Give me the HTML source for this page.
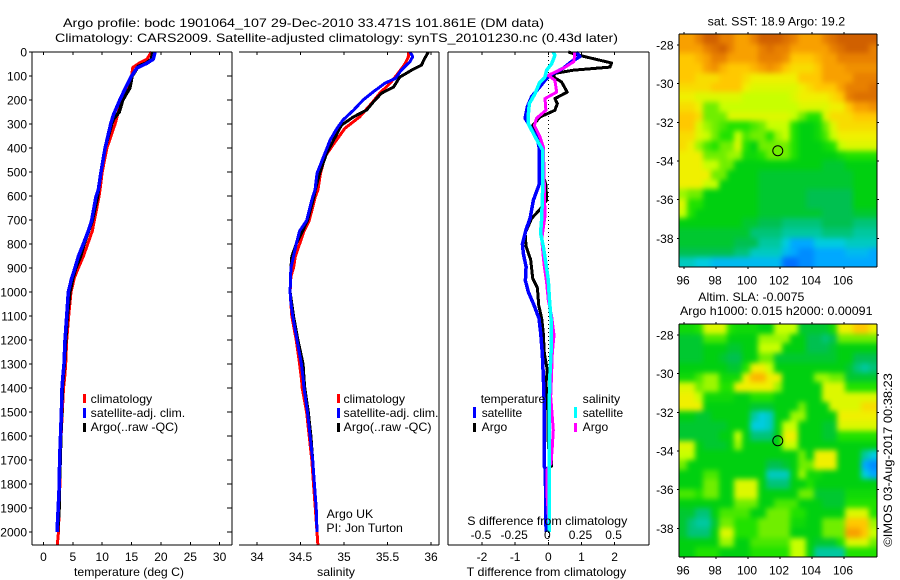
<!DOCTYPE html>
<html>
<head>
<meta charset="utf-8">
<title>Argo profile</title>
<style>
html,body{margin:0;padding:0;background:#fff;}
svg{display:block;}
text{font-family:"Liberation Sans",sans-serif;font-size:12px;fill:#000;}
</style>
</head>
<body>
<svg id="chart" xmlns="http://www.w3.org/2000/svg" width="900" height="580" viewBox="0 0 900 580">
<defs>
<filter id="map-smooth" filterUnits="userSpaceOnUse" x="640" y="0" width="260" height="580" color-interpolation-filters="sRGB">
<feGaussianBlur stdDeviation="2.6"/>
</filter>
<clipPath id="clip-sst"><rect x="679" y="34" width="198" height="233"/></clipPath>
<clipPath id="clip-sla"><rect x="679" y="324" width="198" height="233"/></clipPath>
</defs>
<rect x="0" y="0" width="900" height="580" fill="#fff"/>
<g clip-path="url(#clip-sst)"><g id="sst-cells" filter="url(#map-smooth)" shape-rendering="crispEdges"></g></g>
<g clip-path="url(#clip-sla)"><g id="sla-cells" filter="url(#map-smooth)" shape-rendering="crispEdges"></g></g>
<g id="plots" fill="none" shape-rendering="crispEdges"></g>
<g id="axes" shape-rendering="crispEdges"></g>
<g id="ticklabels"></g>

<text x="63" y="27" textLength="481" lengthAdjust="spacingAndGlyphs">Argo profile: bodc 1901064_107 29-Dec-2010 33.471S 101.861E (DM data)</text>
<text x="55" y="42" textLength="563" lengthAdjust="spacingAndGlyphs">Climatology: CARS2009. Satellite-adjusted climatology: synTS_20101230.nc (0.43d later)</text>

<text x="74" y="576" textLength="110" lengthAdjust="spacingAndGlyphs">temperature (deg C)</text>
<text x="317" y="576" textLength="38" lengthAdjust="spacingAndGlyphs">salinity</text>
<text x="466.7" y="576" textLength="159.5" lengthAdjust="spacingAndGlyphs">T difference from climatology</text>
<text x="467.3" y="525" textLength="160" lengthAdjust="spacingAndGlyphs">S difference from climatology</text>

<g shape-rendering="crispEdges">
<rect x="83" y="394" width="3" height="9" fill="#f00"/>
<rect x="83" y="408" width="3" height="10" fill="#00f"/>
<rect x="83" y="423" width="3" height="9" fill="#000"/>
</g>
<text x="90.7" y="403" textLength="61.5" lengthAdjust="spacingAndGlyphs">climatology</text>
<text x="90.7" y="417" textLength="94.5" lengthAdjust="spacingAndGlyphs">satellite-adj. clim.</text>
<text x="90.7" y="431" textLength="87.5" lengthAdjust="spacingAndGlyphs">Argo(..raw -QC)</text>

<g shape-rendering="crispEdges">
<rect x="337" y="394" width="3" height="9" fill="#f00"/>
<rect x="337" y="408" width="3" height="10" fill="#00f"/>
<rect x="337" y="423" width="3" height="9" fill="#000"/>
</g>
<text x="343.5" y="403" textLength="61.5" lengthAdjust="spacingAndGlyphs">climatology</text>
<text x="343.5" y="417" textLength="95" lengthAdjust="spacingAndGlyphs">satellite-adj. clim.</text>
<text x="343.5" y="431" textLength="88" lengthAdjust="spacingAndGlyphs">Argo(..raw -QC)</text>
<text x="326.7" y="518" textLength="46.5" lengthAdjust="spacingAndGlyphs">Argo UK</text>
<text x="326.4" y="532" textLength="76.5" lengthAdjust="spacingAndGlyphs">PI: Jon Turton</text>

<g shape-rendering="crispEdges">
<rect x="473" y="407" width="3" height="11" fill="#00f"/>
<rect x="473" y="423" width="3" height="9" fill="#000"/>
<rect x="574" y="407" width="3" height="11" fill="#0ff"/>
<rect x="574" y="423" width="3" height="9" fill="#f0f"/>
</g>
<text x="480.7" y="403" textLength="64.5" lengthAdjust="spacingAndGlyphs">temperature</text>
<text x="582.7" y="403" textLength="37.5" lengthAdjust="spacingAndGlyphs">salinity</text>
<text x="481.7" y="417" textLength="40.5" lengthAdjust="spacingAndGlyphs">satellite</text>
<text x="481.7" y="431" textLength="25.5" lengthAdjust="spacingAndGlyphs">Argo</text>
<text x="582.7" y="417" textLength="40.5" lengthAdjust="spacingAndGlyphs">satellite</text>
<text x="582.7" y="431" textLength="25.5" lengthAdjust="spacingAndGlyphs">Argo</text>

<text x="707.7" y="25.5" textLength="137.5" lengthAdjust="spacingAndGlyphs">sat. SST: 18.9 Argo: 19.2</text>
<text x="698.3" y="301" textLength="106" lengthAdjust="spacingAndGlyphs">Altim. SLA: -0.0075</text>
<text x="680" y="315" textLength="192.5" lengthAdjust="spacingAndGlyphs">Argo h1000: 0.015 h2000: 0.00091</text>
<text transform="translate(892 546.7) rotate(-90)" x="0" y="0" textLength="173.5" lengthAdjust="spacingAndGlyphs">©IMOS 03-Aug-2017 00:38:23</text>
</svg>

<script>
// ---------- depth profiles: temperature ----------
const tempClimDepth = [0,30,45,65,100,200,300,400,500,575,603,703,746,800,852,900,942,1000,1100,1200,1300,1360,1400,1500,1600,1700,1800,1900,2000,2055];
const tempClimValue = [18.4,17.6,16.4,15.2,15,13.3,12.2,10.8,10,9.63,9.45,8.66,8.32,7.53,6.78,5.93,5.25,4.68,4.29,3.95,3.78,3.6,3.4,3.2,3,2.85,2.8,2.65,2.55,2.35];
const tempArgoDepth = [0,30,45,60,100,150,200,250,280,300,400,500,603,703,800,852,900,942,1000,1100,1200,1300,1400,1500,1600,1700,1800,1900,2000];
const tempArgoValue = [18.6,18.4,17.6,16.15,15.1,14.7,13.5,12.9,11.9,11.6,10.5,9.8,9.2,8.3,6.9,6.3,5.5,5,4.5,4.05,3.78,3.55,3.2,3.1,2.95,2.85,2.7,2.65,2.4];
const tempSatDepth = [0,30,47,67,100,145,200,262,300,400,500,575,603,703,746,800,852,900,942,1000,1100,1200,1300,1360,1400,1500,1600,1700,1800,1900,2000];
const tempSatValue = [19,18.7,17.6,15.9,15,14.05,13,11.9,11.45,10.5,9.8,9.34,8.94,8.2,7.64,6.78,5.93,5.37,4.8,4.23,3.95,3.66,3.49,3.27,3.15,3.05,2.9,2.75,2.7,2.5,2.3];

// ---------- depth profiles: salinity ----------
const salClimDepth = [0,20,50,90,130,172,213,270,318,394,436,506,575,603,703,746,800,852,900,935,1000,1100,1200,1300,1360,1400,1500,1600,1700,1800,1900,2000,2055];
const salClimValue = [35.74,35.74,35.7,35.62,35.53,35.41,35.32,35.18,35.01,34.86,34.78,34.73,34.7,34.67,34.6,34.54,34.49,34.44,34.42,34.39,34.38,34.4,34.45,34.49,34.51,34.52,34.57,34.6,34.63,34.65,34.67,34.69,34.7];
const salArgoDepth = [0,25,55,75,105,146,172,207,242,270,305,367,422,506,575,603,703,800,852,900,1000,1100,1200,1300,1360,1400,1500,1600,1700,1800,1900,2000];
const salArgoValue = [35.97,35.93,35.89,35.78,35.64,35.57,35.43,35.34,35.26,35.11,34.97,34.88,34.8,34.72,34.67,34.655,34.58,34.45,34.4,34.39,34.38,34.42,34.47,34.53,34.54,34.55,34.59,34.62,34.64,34.66,34.68,34.69];
const salSatDepth = [0,19,40,75,110,130,165,200,242,283,318,367,422,506,575,603,703,746,800,852,900,1000,1045,1100,1200,1300,1360,1400,1500,1600,1700,1800,1900,2000];
const salSatValue = [35.76,35.79,35.76,35.66,35.59,35.47,35.34,35.22,35.11,34.99,34.92,34.84,34.78,34.69,34.667,34.64,34.57,34.49,34.45,34.42,34.39,34.38,34.39,34.41,34.46,34.51,34.53,34.54,34.58,34.61,34.64,34.66,34.68,34.69];

// ---------- differences from climatology ----------
const diffTSatDepth = [0,19,40,68,89,110,144,186,228,276,311,353,394,485,554,617,693,739,800,841,895,953,1000,1055,1110,1172,1255,1350,1440,1728,1735,1978,2000];
const diffTSatValue = [0.85,0.95,0.7,0.45,0.15,-0.05,-0.25,-0.5,-0.63,-0.7,-0.55,-0.35,-0.28,-0.28,-0.28,-0.45,-0.55,-0.67,-0.78,-0.75,-0.67,-0.69,-0.6,-0.43,-0.28,-0.23,-0.18,-0.15,-0.13,-0.12,-0.09,-0.07,-0.06];
const diffTArgoDepth = [0,14,28,46,63,76,89,104,125,167,194,215,243,271,306,353,394,485,554,617,656,693,755,810,866,943,983,1055,1110,1172,1255,1325,1380,1506,1645,1700,1725,1735,1853,1930,2000];
const diffTArgoValue = [0.6,0.95,1.36,1.91,1.86,0.75,0.2,0.15,0.4,0.57,0.2,0.27,0.2,-0.25,-0.47,-0.35,-0.2,-0.22,-0.07,-0.05,-0.25,-0.5,-0.7,-0.67,-0.53,-0.47,-0.33,-0.29,-0.2,-0.15,-0.12,-0.03,-0.07,-0.01,0,0.1,0.1,-0.02,-0.03,-0.05,-0.03];
const diffSSatDepth = [0,14,49,76,104,130,174,215,257,299,353,408,478,576,693,755,810,880,950,1040,1110,1255,1340,1440,1645,1853,2000];
const diffSSatValue = [0.038,0.05,0.025,-0.013,-0.025,-0.068,-0.1,-0.143,-0.15,-0.15,-0.1,-0.043,-0.043,-0.043,-0.05,-0.058,-0.038,-0.018,0,0.01,0.02,0.02,0.013,0.008,0.008,0.008,0.008];
const diffSArgoDepth = [0,40,68,97,118,167,194,243,276,306,353,394,478,685,780,880,960,1035,1100,1180,1255,1340,1436,1506,1575,1645,1715,1740,1853,1930,2000];
const diffSArgoValue = [0.2,0.193,0.113,0,0.05,0.063,-0.025,-0.018,-0.088,-0.105,-0.063,-0.038,-0.033,-0.025,-0.05,-0.033,-0.013,0,0.025,0.043,0.03,0.025,0.018,0.028,0.038,0.03,0.02,-0.008,-0.008,0,0.008];

// ---------- tick labels ----------
const depthTicks = [0,100,200,300,400,500,600,700,800,900,1000,1100,1200,1300,1400,1500,1600,1700,1800,1900,2000];
const tempTicks = [0,5,10,15,20,25,30];
const salTicks = [34,34.5,35,35.5,36];
const diffTTicks = [-2,-1,0,1,2];
const diffSTicks = [-0.5,-0.25,0,0.25,0.5];
const lonTicks = [96,98,100,102,104,106];
const latTicks = [-28,-30,-32,-34,-36,-38];
const argoLon = 101.861;
const argoLat = -33.471;

// ---------- SST map (colour level per cell, north to south) ----------
const sstMap = [
[12,12,13,14,14,13,13,12,12,13,14,14,14,13.5,13,12,12,12,13,13.5,14,14,14,14,14],
[12,12,12,13,13.5,14,13,12,12,12,13,13.5,13,13,12,12,12,12,12,13,13.5,14,14,14,13],
[11,11,11.5,12,13,13,12,12,12,12,13,13,13,12.5,11,11,11,11.5,12,12,13,13,13,13,13],
[11,11,11,12,12.5,11.5,11,11,11,11.5,12,12.5,12,11,10.5,10.5,10.5,11,12,12,12,12.5,12.5,12.5,12.5],
[11,11,10.5,10.5,10.5,11,11,11,10.5,10,10,10,10,10,10,11,11,11,12,12,12,12,13,13,13],
[10.5,10.5,10.5,10.5,11,11,11,11,10,9.5,9.5,9.5,9.5,9.5,9.5,10,10.5,11,11,11,12,13,13,13,13.5],
[10,10,9.5,9.5,9.5,9.5,9.5,9.5,9,9,9,9,9,9,9.5,10,10,10,10,10.5,11,13,13.5,13.5,13.5],
[10.5,10.5,10,8,8,9,9,9,9,9,9,9,9,9,9,9.5,9.5,9.5,9.5,10,10,11,12,12,12.5],
[11,11,10.5,8,8,8,9.5,9.5,9.5,9.5,9.5,9.5,9.5,9.5,9,8,7,7,9.5,10.5,10.5,10.5,11,11,11],
[11,11,9.5,8.5,8,7.5,7,7,7,7.5,8,9,9,9,7,6,6,6.5,8,9.5,10.5,10.5,10.5,10.5,10.5],
[10.5,10.5,9.5,9,8,7,7,9,7.5,8,8,7,8.5,9,7,6,6,6.5,7.5,9,10,10,10,10,10],
[10.5,10,8.5,7.5,7,8,8,9.5,7,6,8,8,8,8,7,6,6,6,6.5,7,9,9.5,9.5,9.5,9.5],
[10,10,10,8,8,8,8.5,8.5,6.5,6.5,7,8,8,8,7,6,6,6,6,6,6.5,7,7,7,7],
[10,10,10,9,9,8,8,6,6,6,6,6,6,6,6,6,6,6,5.5,5.5,5.5,6,6,6,6],
[10,10,10,10,8,8,6,6,6,6,5.5,5.5,5.5,5.5,5.5,5.5,5.5,5.5,5.5,5.5,5.5,5.5,6,6,6],
[10,10,10,9,9,6,6,6,6,6,5.5,5.5,5.5,5.5,5.5,5.5,5.5,5.5,5.5,5.5,5.5,5.5,6,6,6],
[8.5,8,8,6,6,6,6,6,6,6,5.5,5.5,5.5,5.5,5.5,5.5,5,5,5,5,5,5,6,6,6],
[9.5,7,7,6,6,6,6,6,6,6,5.5,5.5,5.5,5.5,5.5,5.5,5,5,5,5,5,5,6,6,6],
[9,7,6,6,6,6,6,6,6,6,5.5,5.5,5.5,5.5,5.5,5.5,5.5,5.5,5,5,5,5,5.5,5.5,5.5],
[6,6,6,6,6,6,6,6,5.5,5.5,5,5,5,4.5,4.5,4.5,4.5,4.5,5,5,5,5,4.5,4.5,4.5],
[5.5,5.5,5.5,5.5,5.5,5.5,5.5,5.5,5.5,4.5,4.5,4.5,4.5,4,4,4,4,4,4.5,4.5,4.5,4.5,4,4,4],
[5.5,5.5,5.5,5.5,5.5,5.5,5.5,5,5,5,4,4,4,3,2,2,2,3,3,3,3,3.5,3.5,3.5,3.5],
[5,5,5,5,5,5,5,4.5,4.5,3.5,3.5,3.5,3.5,2.5,2,1.5,1.5,2,2,2,2,2.5,2.5,2.5,2],
[3.5,3.5,3,3,2.5,2.5,2.5,2.5,2.5,2.5,2.5,2.5,2.5,1,1,1.5,1.5,2,2,2,2,2,2,2,2]
];

// ---------- SLA map (colour level per cell, north to south) ----------
const slaMap = [
[6.5,6.5,7,9.5,9.5,9.5,7,6.5,6.5,6.5,6,6,9,9,9,5.5,5.5,5.5,5.5,6.5,10,10,11,11,10],
[5.5,5.5,5.5,7.5,7.5,7.5,6,6,6,6,8.5,8.5,8.5,8.5,6,6,5,5,4.5,5,8,8,8,8,8],
[5.5,5.5,5.5,6,6,6,5.5,5.5,6,6,9,9,9,6,6,6,5,5,5,5.5,6,6,6,6,6],
[5.5,5.5,5.5,6,6,5.5,5,5,6,6,8,8,5.5,5.5,5.5,5.5,5.5,5.5,5.5,5.5,6,6,5,5,5],
[6,6,6,6,6,6,5.5,5.5,7,10,10,9,6,6,6,6,6,6,6,6,6,5.5,4.5,4,4.5],
[6.5,6.5,7.5,8.5,8.5,6.5,6.5,6.5,10,11.5,11.5,10,10,6,6,6,6,8.5,8.5,8,8,5.5,5.5,5.5,5.5],
[9.5,9.5,8,8.5,8.5,7,7,10,10,10,10,10,8.5,6,6,6,6,6,9.5,9.5,9.5,7,7,7,7],
[10,10,9,6.5,6.5,6.5,6.5,6,6,7,7,7,6,6,6,6,6,6,9.5,9.5,9.5,9.5,9.5,9.5,9.5],
[10,10,10,6,6,6,6,6,6,5.5,5.5,5.5,6,6,6,8,6,6,6,9.5,9.5,9.5,9.5,10.5,10.5],
[6,6,5.5,5.5,6,6,6,6,6,4,3,3.5,6,6,8.5,8.5,6,6,6,6,10,10,10,10,10],
[5.5,5.5,5.5,5.5,5.5,5.5,6,6,6,3,3,3.5,6,9,9,6,6,6,5.5,5.5,9.5,9.5,9.5,9.5,9.5],
[5.5,5.5,5.5,5.5,5.5,6,6,9,6,4.5,4.5,4.5,6,10,10,6,6,6,5.5,5.5,7,7,7,7,7],
[9.5,9.5,6,5.5,5.5,5.5,6,8.5,6,6,6,6,6,9,9,6,6,6,6,6,6,6,6,6,6],
[9,9,6,6,6,6,6,6,6,6,6,6,6,6,6,8,6,10,10,10,6,6,6,4,3],
[8,6,6,6,6,6,6,6,6,6,6,5,5,5.5,6,8,8,10,10,10,6,6,6,2,1.5],
[6,6,6,7.5,7.5,6,6,6,6,6,6,3.5,3.5,3.5,6,8.5,6.5,6.5,6,6,6,6,6,3,2],
[6,6,6,8,8,6,6,9.5,9.5,9.5,6,4.5,4.5,4.5,6,6,7,6,6,6,6,6,6,6,6],
[7.5,7.5,7,8,8,6,6,9.5,9.5,9.5,6,6,6,6,6,8,8,5.5,5.5,5.5,5.5,6.5,6.5,6.5,6.5],
[6,6,6,6,6,6,6,8,8,8,6,6,7.5,7.5,7.5,6,6,6,5.5,5.5,5.5,7,7,7,7],
[5.5,5.5,4.5,4.5,6,7.5,7.5,7.5,7.5,6,6,8,8,8,7,7,6,6,6,6,6,9.5,9.5,9.5,7],
[5.5,4.5,4,4,5.5,8,8,7,7,7,8,8,8,8,6.5,6.5,6,6,8,8,8,11,11,11,8.5],
[5.5,4.5,4.5,4.5,6,9.5,9.5,7,7,7,8,8,8,8,6,6,6,6,8,8,8,12,12,11,9],
[6,6,6,6,6,8.5,8.5,6,6,7.5,7.5,7.5,7.5,7.5,9,9,6,5.5,5.5,5.5,7,9.5,9.5,9.5,8],
[6,6,7,7,7,6,6,6,6,7,7,7,7,7,9,9,6,4,4,4,4,7,7,7,7]
];

// ---------- colour scale ----------
function levelColor(v) {
  const stops = [[0,48,192],[0,112,255],[0,168,255],[0,204,224],[0,200,160],[0,192,80],[0,208,16],[32,226,0],[112,238,0],[200,255,0],[240,240,0],[255,200,0],[248,160,0],[232,128,0],[208,96,0]];
  const i = Math.max(0, Math.min(stops.length - 2, Math.floor(v)));
  const f = Math.max(0, Math.min(1, v - i));
  const c = stops[i].map((a, k) => Math.round(a + (stops[i + 1][k] - a) * f));
  return 'rgb(' + c.join(',') + ')';
}

// ---------- axis functions ----------
const yDepth = d => 52 + d * 0.24;
const xTemp = t => 43.5 + t * 5.87;
const xSal = s => 257 + (s - 34) * 87;
const xDiffT = t => 548.3 + t * 33.15;
const xDiffS = s => 548.3 + s * 132.6;
const xLon = lon => 684 + (lon - 96) * 16;
const yLat1 = lat => 45 + (-28 - lat) * 19.33;
const yLat2 = lat => 335 + (-28 - lat) * 19.33;

const NS = 'http://www.w3.org/2000/svg';
const plotsG = document.getElementById('plots');
const axesG = document.getElementById('axes');
const labelsG = document.getElementById('ticklabels');

function drawLine(depths, values, xFn, color, width, name) {
  const p = document.createElementNS(NS, 'polyline');
  p.setAttribute('points', depths.map((d, i) => xFn(values[i]).toFixed(1) + ',' + yDepth(d).toFixed(1)).join(' '));
  p.setAttribute('stroke', color);
  p.setAttribute('stroke-width', width);
  p.setAttribute('stroke-linejoin', 'round');
  
  
  plotsG.appendChild(p);
}

function axisLine(x1, y1, x2, y2, name, w) {
  const l = document.createElementNS(NS, 'line');
  l.setAttribute('x1', x1);
  l.setAttribute('y1', y1);
  l.setAttribute('x2', x2);
  l.setAttribute('y2', y2);
  l.setAttribute('stroke', '#000');
  l.setAttribute('stroke-width', w || 1);
  
  
  axesG.appendChild(l);
}

function label(str, x, y, anchor, name) {
  const t = document.createElementNS(NS, 'text');
  t.textContent = str;
  t.setAttribute('x', x);
  t.setAttribute('y', y);
  t.setAttribute('text-anchor', anchor);
  
  
  labelsG.appendChild(t);
}

// Edge cells extend past the frame so the smoothing filter does not fade at the clip edge.
function drawMap(grid, target, yTop, yBottom, xLeft, xRight, name) {
  const rows = grid.length;
  const cols = grid[0].length;
  const cw = (xRight - xLeft) / cols;
  const ch = (yBottom - yTop) / rows;
  const bleed = 14;
  grid.forEach((row, r) => row.forEach((v, c) => {
    const x0 = c === 0 ? xLeft - bleed : Math.round(xLeft + c * cw);
    const x1 = c === cols - 1 ? xRight + bleed : Math.round(xLeft + (c + 1) * cw);
    const y0 = r === 0 ? yTop - bleed : Math.round(yTop + r * ch);
    const y1 = r === rows - 1 ? yBottom + bleed : Math.round(yTop + (r + 1) * ch);
    const cell = document.createElementNS(NS, 'rect');
    cell.setAttribute('x', x0);
    cell.setAttribute('y', y0);
    cell.setAttribute('width', x1 - x0);
    cell.setAttribute('height', y1 - y0);
    cell.setAttribute('fill', levelColor(v));
    
    
    target.appendChild(cell);
  }));
}

// ---------- profile panels ----------
const P1 = {l: 32, r: 232, t: 52, b: 545};
const P2 = {l: 239, r: 439, t: 52, b: 545};
const P3 = {l: 448, r: 649, t: 52, b: 545};

// zero line of the difference panel
const zeroLine = document.createElementNS(NS, 'line');
zeroLine.setAttribute('x1', xDiffT(0));
zeroLine.setAttribute('x2', xDiffT(0));
zeroLine.setAttribute('y1', P3.t);
zeroLine.setAttribute('y2', P3.b);
zeroLine.setAttribute('stroke', '#000');
zeroLine.setAttribute('stroke-width', 1);
zeroLine.setAttribute('stroke-dasharray', '1 3');


plotsG.appendChild(zeroLine);

drawLine(tempClimDepth, tempClimValue, xTemp, '#f00', 3, 'temperature-climatology-line');
drawLine(tempArgoDepth, tempArgoValue, xTemp, '#000', 3.5, 'temperature-argo-line');
drawLine(tempSatDepth, tempSatValue, xTemp, '#00f', 3.5, 'temperature-satellite-line');

drawLine(salClimDepth, salClimValue, xSal, '#f00', 3, 'salinity-climatology-line');
drawLine(salArgoDepth, salArgoValue, xSal, '#000', 3, 'salinity-argo-line');
drawLine(salSatDepth, salSatValue, xSal, '#00f', 3, 'salinity-satellite-line');

drawLine(diffTArgoDepth, diffTArgoValue, xDiffT, '#000', 3, 't-difference-argo-line');
drawLine(diffTSatDepth, diffTSatValue, xDiffT, '#00f', 3.5, 't-difference-satellite-line');
drawLine(diffSArgoDepth, diffSArgoValue, xDiffS, '#f0f', 3, 's-difference-argo-line');
drawLine(diffSSatDepth, diffSSatValue, xDiffS, '#0ff', 3.5, 's-difference-satellite-line');

// panel frames
axisLine(P1.l, P1.t, P1.r, P1.t, 'temperature-top-axis', 1);
axisLine(P1.l, P1.b, P1.r, P1.b, 'temperature-bottom-axis', 1);
axisLine(P1.l, P1.t, P1.l, P1.b, 'depth-axis', 1);
axisLine(P1.r, P1.t, P1.r, P1.b, 'temperature-right-axis', 1);
axisLine(P2.l, P2.t, P2.r, P2.t, 'salinity-top-axis', 1);
axisLine(P2.l, P2.b, P2.r, P2.b, 'salinity-bottom-axis', 1);
axisLine(P2.r, P2.t, P2.r, P2.b, 'salinity-right-axis', 1);
axisLine(P3.l, P3.t, P3.r, P3.t, 'difference-top-axis', 1);
axisLine(P3.l, P3.b, P3.r, P3.b, 'difference-bottom-axis', 1);
axisLine(P3.l, P3.t, P3.l, P3.b, 'difference-left-axis', 1);
axisLine(P3.r, P3.t, P3.r, P3.b, 'difference-right-axis', 1);

depthTicks.forEach(d => {
  axisLine(P1.l - 3, yDepth(d), P1.l, yDepth(d), 'depth-tick');
  axisLine(P1.r - 5, yDepth(d), P1.r, yDepth(d), 'depth-tick-right');
  label(String(d), 27, yDepth(d) + 4.5, 'end', 'depth-tick-label');
});
tempTicks.forEach(t => {
  axisLine(xTemp(t), P1.t, xTemp(t), P1.t + 3, 'temperature-tick-top');
  axisLine(xTemp(t), P1.b - 3, xTemp(t), P1.b, 'temperature-tick');
  label(String(t), xTemp(t), 561, 'middle', 'temperature-tick-label');
});
salTicks.forEach(s => {
  axisLine(xSal(s), P2.t, xSal(s), P2.t + 3, 'salinity-tick-top');
  axisLine(xSal(s), P2.b - 3, xSal(s), P2.b, 'salinity-tick');
  label(String(s), xSal(s), 561, 'middle', 'salinity-tick-label');
});
diffTTicks.forEach(t => {
  axisLine(xDiffT(t), P3.b - 3, xDiffT(t), P3.b, 't-difference-tick');
  axisLine(xDiffT(t), P3.t, xDiffT(t), P3.t + 3, 't-difference-tick-top');
  label(String(t), xDiffT(t), 561, 'middle', 't-difference-tick-label');
});
diffSTicks.forEach(s => {
  label(String(s), xDiffS(s) - 1, 539, 'middle', 's-difference-tick-label');
});

// ---------- maps ----------
const M1 = {l: 679, r: 877, t: 34, b: 267};
const M2 = {l: 679, r: 877, t: 324, b: 557};
drawMap(sstMap, document.getElementById('sst-cells'), M1.t, M1.b, M1.l, M1.r, 'sst-cell');
drawMap(slaMap, document.getElementById('sla-cells'), M2.t, M2.b, M2.l, M2.r, 'sla-cell');

[[M1, yLat1, 'sst'], [M2, yLat2, 'sla']].forEach(([m, yFn, key]) => {
  axisLine(m.l, m.t, m.r, m.t, key + '-map-top-axis');
  axisLine(m.l, m.b, m.r, m.b, key + '-map-bottom-axis');
  axisLine(m.l, m.t, m.l, m.b, key + '-map-left-axis');
  axisLine(m.r, m.t, m.r, m.b, key + '-map-right-axis');
  lonTicks.forEach(lon => {
    axisLine(xLon(lon), m.t - 2, xLon(lon), m.t, key + '-lon-tick-top');
    axisLine(xLon(lon), m.b, xLon(lon), m.b + 2, key + '-lon-tick');
    label(String(lon), xLon(lon) - 1, m.b + 17.5, 'middle', key + '-lon-tick-label');
  });
  latTicks.forEach(lat => {
    axisLine(m.l - 2, yFn(lat), m.l, yFn(lat), key + '-lat-tick');
    axisLine(m.r, yFn(lat), m.r + 2, yFn(lat), key + '-lat-tick-right');
    label(String(lat), 673.5, yFn(lat) + 4.5, 'end', key + '-lat-tick-label');
  });
  const marker = document.createElementNS(NS, 'circle');
  marker.setAttribute('cx', xLon(argoLon));
  marker.setAttribute('cy', yFn(argoLat));
  marker.setAttribute('r', 5);
  marker.setAttribute('fill', 'none');
  marker.setAttribute('stroke', '#000');
  marker.setAttribute('stroke-width', 1);
  marker.setAttribute('shape-rendering', 'auto');
  
  
  axesG.appendChild(marker);
});
</script>
</body>
</html>
